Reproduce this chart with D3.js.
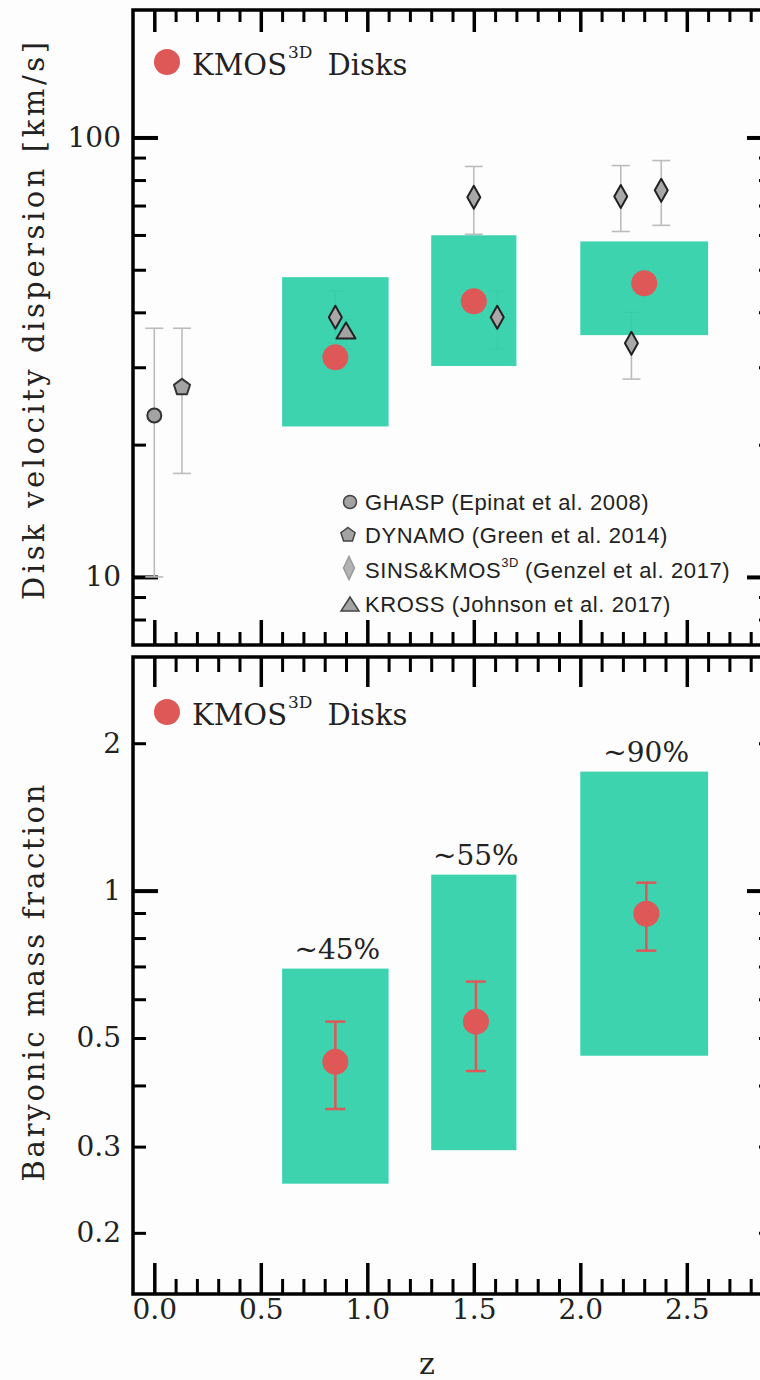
<!DOCTYPE html>
<html>
<head>
<meta charset="utf-8">
<script src="https://cdn.jsdelivr.net/npm/d3@7"></script>
<style>
  body { margin: 0; background: #fff; }
  svg { display: block; }
</style>
</head>
<body>
<svg id="chart" width="760" height="1380"></svg>
<script>
// ---------------- DATA ----------------
const zDomain = [-0.1, 2.9];
const xMajorTicks = [0, 0.5, 1, 1.5, 2, 2.5];
const xTickLabels = ['0.0', '0.5', '1.0', '1.5', '2.0', '2.5'];
const xMinorTicks = [0.1, 0.2, 0.3, 0.4, 0.6, 0.7, 0.8, 0.9, 1.1, 1.2, 1.3, 1.4,
                     1.6, 1.7, 1.8, 1.9, 2.1, 2.2, 2.3, 2.4, 2.6, 2.7, 2.8];

const sigmaDomain = [7, 195];
const sigmaMajorTicks = [10, 100];
const sigmaMinorTicks = [8, 9, 20, 30, 40, 50, 60, 70, 80, 90];

const fbarDomain = [0.15, 3.0];
const fbarMajorTicks = [1];
const fbarMinorTicks = [0.2, 0.3, 0.4, 0.5, 0.6, 0.7, 0.8, 0.9, 2];
const fbarLabelled = [0.2, 0.3, 0.5, 1, 2];

// redshift bins of the KMOS3D disks
const binZ = [[0.6, 1.1], [1.3, 1.7], [2.0, 2.6]];

// top panel: dispersion
const sigmaBoxLo = [22.0, 30.2, 35.5];
const sigmaBoxHi = [48.1, 59.9, 58.0];
const kmosZ = [0.85, 1.50, 2.30];
const kmosSigma = [31.6, 42.4, 46.6];

const ghaspZ = [0.0], ghaspSigma = [23.3], ghaspLo = [10.0], ghaspHi = [36.8];
const dynamoZ = [0.13], dynamoSigma = [27.0], dynamoLo = [17.2], dynamoHi = [36.8];
const sinsZ     = [0.85, 1.50, 1.61, 2.19, 2.24, 2.38];
const sinsSigma = [39.0, 73.1, 39.0, 73.4, 34.0, 75.8];
const sinsLo    = [34.0, 60.2, 33.0, 61.1, 28.2, 63.1];
const sinsHi    = [44.7, 85.9, 44.7, 86.3, 40.0, 88.6];
const krossZ = [0.90], krossSigma = [36.2], krossLo = [33.0], krossHi = [38.5];

// bottom panel: baryonic fraction
const fbarBoxLo = [0.252, 0.295, 0.46];
const fbarBoxHi = [0.693, 1.078, 1.75];
const fbarZ  = [0.85, 1.51, 2.31];
const fbar   = [0.447, 0.54, 0.897];
const fbarLo = [0.358, 0.428, 0.754];
const fbarHi = [0.54, 0.652, 1.038];
const fbarBinLabels = ['~45%', '~55%', '~90%'];

const surveyNames = ['GHASP (Epinat et al. 2008)', 'DYNAMO (Green et al. 2014)',
                     'SINS&KMOS', 'KROSS (Johnson et al. 2017)'];

// ---------------- STYLE ----------------
const GREEN = 'rgb(46, 208, 169)';
const RED = 'rgb(222, 88, 88)';
const SERIF = '"DejaVu Serif", serif';
const SANS = '"Liberation Sans", Arial, sans-serif';

const svg = d3.select('#chart');
svg.append('rect').attr('width', 760).attr('height', 1380).attr('fill', '#fdfdfd');

const x = d3.scaleLinear().domain(zDomain).range([133, 772]);
const yTop = d3.scaleLog().domain(sigmaDomain).range([645, 10]);
const yBot = d3.scaleLog().domain(fbarDomain).range([1294, 657]);

//--------------AXES----------------------------------------
function styleAxis(g, width) {
  g.select('.domain').remove();
  g.selectAll('line').attr('stroke', '#000').attr('stroke-width', width);
  g.selectAll('text').attr('font-family', SERIF).attr('font-size', 28).attr('fill', '#222');
}

function frame(y, top, bottom, ticks) {
  const xl = 133, xr = 772;
  // bottom x
  const bMaj = svg.append('g').attr('transform', `translate(0,${bottom})`)
    .call(d3.axisBottom(x).tickValues(xMajorTicks).tickSize(-ticks.bMaj).tickPadding(5)
      .tickFormat(ticks.xLabels ? (d, i) => xTickLabels[i] : ''));
  styleAxis(bMaj, 3.5);
  styleAxis(svg.append('g').attr('transform', `translate(0,${bottom})`)
    .call(d3.axisBottom(x).tickValues(xMinorTicks).tickSize(-ticks.bMin).tickFormat('')), 3);
  // top x
  styleAxis(svg.append('g').attr('transform', `translate(0,${top})`)
    .call(d3.axisTop(x).tickValues(xMajorTicks).tickSize(-ticks.tMaj).tickFormat('')), 3.5);
  styleAxis(svg.append('g').attr('transform', `translate(0,${top})`)
    .call(d3.axisTop(x).tickValues(xMinorTicks).tickSize(-ticks.tMin).tickFormat('')), 3);
  // left y
  const lab = ticks.yLabel;
  styleAxis(svg.append('g').attr('transform', `translate(${xl},0)`)
    .call(d3.axisLeft(y).tickValues(ticks.yMaj).tickSize(-25).tickPadding(12).tickFormat(lab)), 4);
  styleAxis(svg.append('g').attr('transform', `translate(${xl},0)`)
    .call(d3.axisLeft(y).tickValues(ticks.yMin).tickSize(-13).tickPadding(12).tickFormat(lab)), 3);
  // right y
  styleAxis(svg.append('g').attr('transform', `translate(${xr},0)`)
    .call(d3.axisRight(y).tickValues(ticks.yMaj).tickSize(-25).tickFormat('')), 4);
  styleAxis(svg.append('g').attr('transform', `translate(${xr},0)`)
    .call(d3.axisRight(y).tickValues(ticks.yMin).tickSize(-13).tickFormat('')), 3);
  svg.append('rect')
    .attr('x', xl).attr('y', top).attr('width', xr - xl).attr('height', bottom - top)
    .attr('fill', 'none').attr('stroke', '#000').attr('stroke-width', 3.5);
}

//------------ MARKERS ------------------------------------
function pentagon(r) {
  const pts = d3.range(5).map(i => {
    const a = -Math.PI / 2 + i * 2 * Math.PI / 5;
    return [r * Math.cos(a), r * Math.sin(a)];
  });
  return 'M' + pts.join('L') + 'Z';
}
function diamond(w, h) {
  return `M0,${-h / 2}L${w / 2},0L0,${h / 2}L${-w / 2},0Z`;
}
const shapes = {
  circle: d3.symbol(d3.symbolCircle, Math.PI * 7 * 7)(),
  pentagon: pentagon(8.5),
  diamond: diamond(13, 23),
  triangle: 'M0,-9L9.5,7L-9.5,7Z'
};

function errorBars(g, y, zs, lo, hi, color, width, cap) {
  zs.forEach((z, i) => {
    const cx = x(z);
    g.append('line').attr('x1', cx).attr('x2', cx).attr('y1', y(lo[i])).attr('y2', y(hi[i]))
      .attr('stroke', color).attr('stroke-width', width);
    [lo[i], hi[i]].forEach(v => {
      g.append('line').attr('x1', cx - cap / 2).attr('x2', cx + cap / 2)
        .attr('y1', y(v)).attr('y2', y(v))
        .attr('stroke', color).attr('stroke-width', width);
    });
  });
}

function points(g, y, zs, vals, shape, fill, stroke) {
  g.selectAll(null).data(zs).enter().append('path')
    .attr('d', shapes[shape])
    .attr('transform', (d, i) => `translate(${x(d)},${y(vals[i])})`)
    .attr('fill', fill).attr('stroke', stroke).attr('stroke-width', 2)
    .attr('stroke-linejoin', 'round');
}

function boxes(g, y, lo, hi) {
  g.selectAll(null).data(binZ).enter().append('rect')
    .attr('x', d => x(d[0]))
    .attr('width', d => x(d[1]) - x(d[0]))
    .attr('y', (d, i) => y(hi[i]))
    .attr('height', (d, i) => y(lo[i]) - y(hi[i]))
    .attr('fill', GREEN).attr('fill-opacity', 0.93);
}

function kmosLegend(cy) {
  svg.append('circle').attr('cx', 167).attr('cy', cy).attr('r', 13).attr('fill', RED);
  const t = svg.append('text').attr('x', 192).attr('y', cy + 13)
    .attr('font-family', SERIF).attr('font-size', 29).attr('fill', '#222');
  t.append('tspan').text('KMOS');
  t.append('tspan').attr('font-size', 17).attr('dy', -17).attr('dx', 1).text('3D');
  t.append('tspan').attr('dy', 17).attr('dx', 15).text('Disks');
}

function yTitle(cy, len, label) {
  svg.append('text')
    .attr('transform', `translate(44,${cy}) rotate(-90)`)
    .attr('text-anchor', 'middle')
    .attr('font-family', SERIF).attr('font-size', 29).attr('fill', '#222')
    .attr('textLength', len).attr('lengthAdjust', 'spacing')
    .text(label);
}

//------------- TOP PANEL ---------------------------------
frame(yTop, 10, 645, {
  bMaj: 25, bMin: 13, tMaj: 22, tMin: 12,
  yMaj: sigmaMajorTicks, yMin: sigmaMinorTicks,
  yLabel: d => sigmaMajorTicks.includes(d) ? String(d) : '',
  xLabels: false
});

const topG = svg.append('g');
const ERR = '#bcbcbc';
errorBars(topG, yTop, ghaspZ, ghaspLo, ghaspHi, ERR, 1.6, 18);
errorBars(topG, yTop, dynamoZ, dynamoLo, dynamoHi, ERR, 1.6, 18);
errorBars(topG, yTop, sinsZ, sinsLo, sinsHi, ERR, 1.6, 18);
errorBars(topG, yTop, krossZ, krossLo, krossHi, ERR, 1.6, 12);
boxes(topG, yTop, sigmaBoxLo, sigmaBoxHi);
points(topG, yTop, ghaspZ, ghaspSigma, 'circle', '#a3a3a3', '#333');
points(topG, yTop, dynamoZ, dynamoSigma, 'pentagon', '#a3a3a3', '#333');
points(topG, yTop, sinsZ, sinsSigma, 'diamond', '#a8a8a8', '#222');
points(topG, yTop, krossZ, krossSigma, 'triangle', '#a3a3a3', '#222');
topG.selectAll(null).data(kmosZ).enter().append('circle')
  .attr('cx', d => x(d)).attr('cy', (d, i) => yTop(kmosSigma[i]))
  .attr('r', 13).attr('fill', RED);

kmosLegend(62);

// survey legend
const legRows = [510, 543, 578, 612];
const legShapes = [
  {d: d3.symbol(d3.symbolCircle, Math.PI * 6.5 * 6.5)(), fill: '#a3a3a3', stroke: '#444', dx: 350, dy: -8},
  {d: pentagon(7.5), fill: '#a3a3a3', stroke: '#444', dx: 348, dy: -8},
  {d: diamond(11, 23), fill: '#b3b3b3', stroke: '#999', dx: 349, dy: -10},
  {d: 'M0,-8L9,6L-9,6Z', fill: '#a3a3a3', stroke: '#444', dx: 350, dy: -7}
];
const legG = svg.append('g');
surveyNames.forEach((name, i) => {
  const s = legShapes[i];
  legG.append('path').attr('d', s.d)
    .attr('transform', `translate(${s.dx},${legRows[i] + s.dy})`)
    .attr('fill', s.fill).attr('stroke', s.stroke).attr('stroke-width', 1.5);
  const t = legG.append('text').attr('x', 365).attr('y', legRows[i])
    .attr('font-family', SANS).attr('font-size', 22).attr('letter-spacing', 0.6)
    .attr('fill', '#222');
  if (i === 2) {
    t.append('tspan').text(name);
    t.append('tspan').attr('font-size', 13).attr('dy', -11).text('3D');
    t.append('tspan').attr('dy', 11).attr('dx', 6).text('(Genzel et al. 2017)');
  } else {
    t.text(name);
  }
});

yTitle(321, 558, 'Disk velocity dispersion [km/s]');

//------------- BOTTOM PANEL ------------------------------
frame(yBot, 657, 1294, {
  bMaj: 31, bMin: 15, tMaj: 30, tMin: 15,
  yMaj: fbarMajorTicks, yMin: fbarMinorTicks,
  yLabel: d => fbarLabelled.includes(d) ? String(d) : '',
  xLabels: true
});

const botG = svg.append('g');
boxes(botG, yBot, fbarBoxLo, fbarBoxHi);
errorBars(botG, yBot, fbarZ, fbarLo, fbarHi, RED, 2.5, 20);
botG.selectAll(null).data(fbarZ).enter().append('circle')
  .attr('cx', d => x(d)).attr('cy', (d, i) => yBot(fbar[i]))
  .attr('r', 13).attr('fill', RED);
botG.selectAll(null).data(binZ).enter().append('text')
  .attr('x', d => x((d[0] + d[1]) / 2) + 2)
  .attr('y', (d, i) => yBot(fbarBoxHi[i]) - 10)
  .attr('text-anchor', 'middle')
  .attr('font-family', SERIF).attr('font-size', 28).attr('fill', '#222')
  .text((d, i) => fbarBinLabels[i]);

kmosLegend(712);

yTitle(983, 397, 'Baryonic mass fraction');

svg.append('text')
  .attr('x', 427).attr('y', 1374)
  .attr('text-anchor', 'middle')
  .attr('font-family', SERIF).attr('font-size', 30).attr('fill', '#222')
  .text('z');
</script>
</body>
</html>
